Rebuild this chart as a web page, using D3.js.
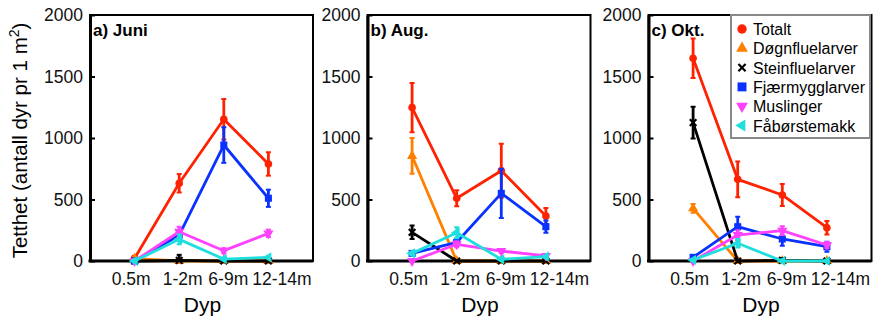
<!DOCTYPE html>
<html>
<head>
<meta charset="utf-8">
<script src="https://cdn.jsdelivr.net/npm/d3@7"></script>
<style>
  html, body { margin: 0; padding: 0; background: #fff; }
  svg { display: block; font-family: "Liberation Sans", Arial, sans-serif; }
</style>
</head>
<body>
<svg id="chart" width="873" height="322"></svg>
<script>
// ---------------- DATA ----------------
const depths = ["0.5m", "1-2m", "6-9m", "12-14m"];
const panelTitles = ["a) Juni", "b) Aug.", "c) Okt."];
const seriesNames = ["Totalt", "Døgnfluelarver", "Steinfluelarver", "Fjærmygglarver", "Muslinger", "Fåbørstemakk"];
const yTicks = [0, 500, 1000, 1500, 2000];

// mean values per panel (Juni, Aug., Okt.) and depth
const totaltMean  = [[22, 632, 1152, 789], [1247, 510, 734, 366], [1648, 664, 537, 271]];
const totaltErr   = [[10, 75, 165, 95],    [200, 65, 220, 65],    [160, 145, 90, 55]];
const dognMean    = [[20, 0, 0, 0],        [854, 0, 0, 0],        [428, 0, 0, 0]];
const dognErr     = [[5, 3, 3, 3],         [145, 3, 3, 3],        [35, 3, 3, 3]];
const steinMean   = [[0, 5, 0, 0],         [233, 0, 0, 0],        [1125, 0, 5, 0]];
const steinErr    = [[3, 45, 8, 8],        [55, 5, 3, 3],         [130, 5, 20, 5]];
const fjaerMean   = [[0, 210, 943, 510],   [62, 152, 550, 279],   [30, 279, 179, 116]];
const fjaerErr    = [[5, 30, 145, 70],     [15, 30, 200, 50],     [10, 80, 55, 40]];
const muslMean    = [[0, 238, 84, 225],    [0, 136, 81, 41],      [0, 211, 247, 130]];
const muslErr     = [[3, 40, 20, 30],      [3, 25, 15, 10],       [3, 40, 35, 25]];
const faaMean     = [[0, 176, 16, 30],     [62, 230, 14, 35],     [8, 144, 0, 0]];
const faaErr      = [[3, 40, 8, 8],        [15, 45, 8, 8],        [5, 35, 3, 3]];

const seriesMeans = [totaltMean, dognMean, steinMean, fjaerMean, muslMean, faaMean];
const seriesErrs  = [totaltErr, dognErr, steinErr, fjaerErr, muslErr, faaErr];

// ---------------- STYLE ----------------
const colors  = ["#ff2200", "#ff8000", "#000000", "#0a32ff", "#ff40ff", "#1fdede"];
const shapes  = ["circle", "up", "x", "square", "down", "left"];
const tickLabelShift = [-4, 3, 4, 13];

const svg = d3.select("#chart");
const panelLefts = [90, 367.5, 648.5];
const panelW = 223;
const plotTop = 15, plotBottom = 261;

const y = d3.scaleLinear().domain([0, 2000]).range([plotBottom, plotTop]);

function symbolPath(shape, size) {
  if (shape === "circle") return d3.symbol(d3.symbolCircle, size)();
  if (shape === "square") return d3.symbol(d3.symbolSquare, size)();
  if (shape === "x") return d3.symbol(d3.symbolTimes, size)();
  return d3.symbol(d3.symbolTriangle, size)();
}
function shapeRotation(shape) {
  if (shape === "down") return 180;
  if (shape === "left") return -90;
  return 0;
}

function drawMarker(g, shape, color, cx, cy, size) {
  const p = g.append("path")
    .attr("d", symbolPath(shape, size))
    .attr("transform", `translate(${cx},${cy}) rotate(${shapeRotation(shape)})`);
  if (shape === "x") {
    p.attr("fill", "none").attr("stroke", color).attr("stroke-width", 2.2);
  } else {
    p.attr("fill", color).attr("stroke", "none");
  }
}

panelTitles.forEach((title, pi) => {
  const x0 = panelLefts[pi];
  const x = d3.scalePoint().domain(["", ...depths, " "]).range([x0, x0 + panelW]);
  const g = svg.append("g");

  const clipId = "clip" + pi;
  g.append("clipPath").attr("id", clipId)
    .append("rect").attr("x", x0).attr("y", plotTop - 10).attr("width", panelW).attr("height", plotBottom - plotTop + 10);

  // frame
  g.append("rect").attr("x", x0).attr("y", plotTop).attr("width", panelW).attr("height", plotBottom - plotTop)
    .attr("fill", "none").attr("stroke", "#000").attr("stroke-width", 2);

  // y axis
  const yAxis = d3.axisLeft(y).tickValues(yTicks).tickFormat(d3.format("d")).tickSizeInner(-5).tickSizeOuter(0).tickPadding(7);
  const ya = g.append("g").attr("transform", `translate(${x0},0)`).call(yAxis);
  ya.select(".domain").attr("stroke-width", 3);
  ya.selectAll(".tick line").attr("stroke-width", 2);
  ya.selectAll("text").attr("font-size", 17.5).attr("fill", "#111");

  // x axis
  const xAxis = d3.axisBottom(x).tickValues(depths).tickSize(0).tickPadding(12);
  const xa = g.append("g").attr("transform", `translate(0,${plotBottom})`).call(xAxis);
  xa.select(".domain").attr("stroke-width", 3).attr("d", `M${x0 - 1.5},0H${x0 + panelW}`);
  xa.selectAll("text").attr("font-size", 17.5).attr("fill", "#111")
    .attr("dx", (d, i) => tickLabelShift[i]);

  // panel title
  g.append("text").attr("x", x0 + 3).attr("y", 36)
    .attr("font-size", 17).attr("font-weight", "bold").text(title);

  // x label
  g.append("text").attr("x", x0 + panelW / 2 + 1).attr("y", 312)
    .attr("text-anchor", "middle").attr("font-size", 21).text("Dyp");

  // series
  seriesNames.forEach((name, si) => {
    const means = seriesMeans[si][pi];
    const errs = seriesErrs[si][pi];
    const color = colors[si];
    const sg = g.append("g");
    const line = d3.line().x((d, i) => x(depths[i])).y(d => y(d));
    sg.append("path").datum(means).attr("d", line)
      .attr("fill", "none").attr("stroke", color).attr("stroke-width", 2.8).attr("stroke-linejoin", "round");
    // error bars
    const eg = sg.append("g").attr("clip-path", `url(#${clipId})`);
    means.forEach((m, i) => {
      const cx = x(depths[i]);
      const y1 = y(m + errs[i]), y2 = y(m - errs[i]);
      eg.append("line").attr("x1", cx).attr("x2", cx).attr("y1", y1).attr("y2", y2)
        .attr("stroke", color).attr("stroke-width", 2.8);
      [y1, y2].forEach(yy => {
        eg.append("line").attr("x1", cx - 2.5).attr("x2", cx + 2.5).attr("y1", yy).attr("y2", yy)
          .attr("stroke", color).attr("stroke-width", 2);
      });
    });
    means.forEach((m, i) => {
      const sz = shapes[si] === "circle" ? 45 : shapes[si] === "square" ? 50 : shapes[si] === "x" ? 30 : 45;
      drawMarker(sg, shapes[si], color, x(depths[i]), y(m), sz);
    });
  });
});

// y label
svg.append("text")
  .attr("transform", "translate(27,140.5) rotate(-90)")
  .attr("text-anchor", "middle").attr("font-size", 20.5)
  .html('Tetthet (antall dyr pr 1 m<tspan dy="-8" font-size="14">2</tspan><tspan dy="8">)</tspan>');

// legend
const lg = svg.append("g");
lg.append("rect").attr("x", 731).attr("y", 15).attr("width", 139).attr("height", 123)
  .attr("fill", "#fff").attr("stroke", "#888").attr("stroke-width", 2);
seriesNames.forEach((name, si) => {
  const cy = 29 + si * 19.3;
  const sz = shapes[si] === "circle" ? 70 : shapes[si] === "square" ? 80 : shapes[si] === "x" ? 35 : 60;
  drawMarker(lg, shapes[si], colors[si], 742, cy, sz);
  lg.append("text").attr("x", 753).attr("y", cy + 6).attr("font-size", 16).text(name);
});
</script>
</body>
</html>
